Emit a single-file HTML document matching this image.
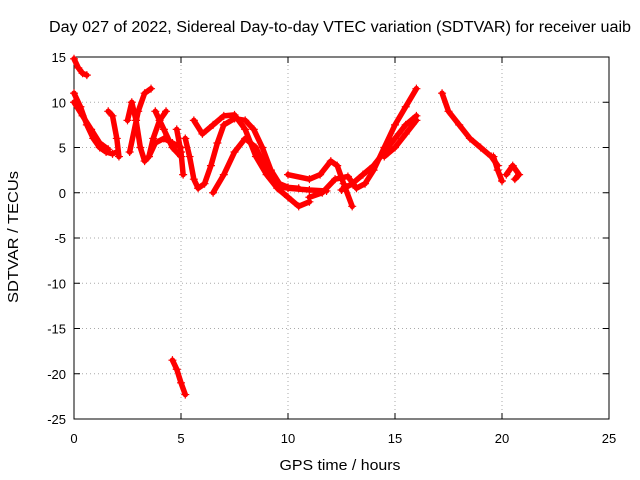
<!DOCTYPE html>
<html><head><meta charset="utf-8"><style>
body{margin:0;background:#fff}
svg{display:block;font-family:"Liberation Sans",sans-serif}
</style></head><body>
<svg id="c" width="640" height="480"></svg>
<script>
// Tracks: [hours, TECU] vertices
const track1=[[0,14.8],[0.2,13.8],[0.4,13.2],[0.6,13]];
const track2=[[0,11],[0.3,9.5],[0.6,7.5],[0.9,6],[1.2,5],[1.5,4.5],[1.8,4.3],[2,4.5]];
const track3=[[0,10],[0.4,8.5],[0.8,7],[1.2,5.5],[1.6,4.8]];
const track4=[[1.6,9],[1.8,8.5],[2,6],[2.1,4]];
const track5=[[2.5,8],[2.7,10],[2.9,8],[3.1,5],[3.3,3.5],[3.5,4],[3.7,6],[4,8],[4.3,9]];
const track6=[[2.6,4.5],[3,9],[3.3,11],[3.6,11.5]];
const track7=[[3.5,4],[3.8,5.5],[4.2,6],[4.6,5.5],[5,5]];
const track8=[[3.8,9],[4.2,7],[4.6,5],[5,4]];
const track9=[[4.8,7],[5,4.5],[5.1,2]];
const track10=[[5.2,6],[5.4,4],[5.6,1.5],[5.8,0.5],[6.1,1],[6.4,3],[6.7,5.5],[7,7.5],[7.5,8.2],[8,8],[8.4,7],[8.8,5],[9.2,2.5],[9.6,1],[10,0.6],[10.5,0.5]];
const track11=[[5.6,8],[6,6.5],[6.5,7.5],[7,8.5],[7.5,8.6],[8,7],[8.5,4],[9,2],[9.5,0.5],[10,-0.5],[10.5,-1.5],[11,-1]];
const track12=[[6.5,0],[7,2],[7.5,4.5],[8,6],[8.5,5],[9,2.5],[9.5,0.7],[10,0.5],[11,0.3],[11.8,0.2]];
const track13=[[10,2],[11,1.5],[11.5,2],[12,3.5],[12.3,3],[12.6,1],[13,-1.5]];
const track14=[[11,-0.5],[11.6,0],[12.2,1.5],[12.8,1.8],[13.2,0.5],[13.6,1],[14,2.5],[14.5,5],[15,7.5],[15.5,9.5],[16,11.5]];
const track15=[[12.5,0.3],[13,1],[13.5,2],[14,3],[14.5,4.5],[15,6],[15.5,7.5],[16,8.5]];
const track16=[[14.5,4],[15,5],[15.5,6.5],[16,8]];
const track17=[[17.2,11],[17.5,9],[18,7.5],[18.5,6],[19,5],[19.5,4],[19.8,3]];
const track18=[[19.6,4],[19.8,2.5],[20,1.3]];
const track19=[[20.2,2],[20.5,3],[20.8,2],[20.6,1.5]];
const track20=[[4.6,-18.5],[4.8,-19.5],[5,-21],[5.2,-22.3]];
const tracks=[track1,track2,track3,track4,track5,track6,track7,track8,track9,track10,track11,track12,track13,track14,track15,track16,track17,track18,track19,track20];
const xTicks=[0,5,10,15,20,25];
const yTicks=[15,10,5,0,-5,-10,-15,-20,-25];

const L=74,R=609,T=57,B=419;
const xs=v=>L+(v-0)/25*(R-L);
const ys=v=>T+(15-v)/40*(B-T);
const svg=document.getElementById('c');
const NS='http://www.w3.org/2000/svg';
function mk(tag,at){const e=document.createElementNS(NS,tag);for(const k in at)e.setAttribute(k,at[k]);svg.appendChild(e);return e;}

xTicks.forEach(v=>{
  if(v>0&&v<25){const g=mk('line',{x1:xs(v),x2:xs(v),y1:T,y2:B,stroke:'#aaa','stroke-dasharray':'1,3'});
  
  }
  const t=mk('text',{x:xs(v),y:B+24,'text-anchor':'middle','font-size':13,fill:'#000'});t.textContent=v;
  
  
  mk('line',{x1:xs(v),x2:xs(v),y1:B,y2:B-6,stroke:'#000'});
  mk('line',{x1:xs(v),x2:xs(v),y1:T,y2:T+6,stroke:'#000'});
});
yTicks.forEach(v=>{
  if(v<15&&v>-25){const g=mk('line',{x1:L,x2:R,y1:ys(v),y2:ys(v),stroke:'#aaa','stroke-dasharray':'1,3'});
  
  }
  const t=mk('text',{x:L-8,y:ys(v)+5,'text-anchor':'end','font-size':13,fill:'#000'});t.textContent=v;
  
  
  mk('line',{x1:L,x2:L+6,y1:ys(v),y2:ys(v),stroke:'#000'});
  mk('line',{x1:R,x2:R-6,y1:ys(v),y2:ys(v),stroke:'#000'});
});
const fr=mk('rect',{x:L,y:T,width:R-L,height:B-T,fill:'none',stroke:'#000'});



tracks.forEach(tr=>{
  const p=mk('polyline',{points:tr.map(d=>xs(d[0])+','+ys(d[1])).join(' '),fill:'none',stroke:'#f00','stroke-width':5.5,'stroke-linejoin':'round','stroke-linecap':'round'});
  
  
  tr.forEach(d=>{
    const m=mk('path',{d:`M${xs(d[0])-4},${ys(d[1])}h8M${xs(d[0])},${ys(d[1])-4}v8`,stroke:'#f00','stroke-width':1.2});
    
    
  });
});

const tt=mk('text',{x:340,y:32,'text-anchor':'middle','font-size':15.5,fill:'#000',textLength:582,lengthAdjust:'spacingAndGlyphs'});
tt.textContent='Day 027 of 2022, Sidereal Day-to-day VTEC variation (SDTVAR) for receiver uaib';


const xt=mk('text',{x:340,y:470,'text-anchor':'middle','font-size':15,fill:'#000',textLength:121,lengthAdjust:'spacingAndGlyphs'});
xt.textContent='GPS time / hours';


const yt=mk('text',{x:0,y:0,'text-anchor':'middle','font-size':15,fill:'#000',textLength:132,lengthAdjust:'spacingAndGlyphs',transform:'translate(18,237) rotate(-90)'});
yt.textContent='SDTVAR / TECUs';


</script>
</body></html>
